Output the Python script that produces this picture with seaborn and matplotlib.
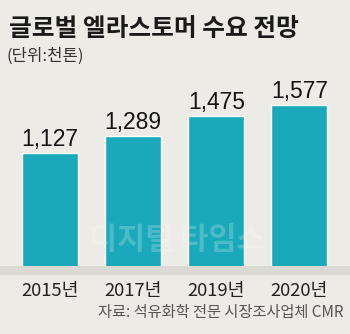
import matplotlib
matplotlib.use("Agg")
import matplotlib.pyplot as plt
import seaborn as sns
import pandas as pd
from matplotlib.patches import Rectangle

categories = ["2015년", "2017년", "2019년", "2020년"]
values = [1127, 1289, 1475, 1577]
value_labels = ["1,127", "1,289", "1,475", "1,577"]
title = "글로벌 엘라스토머 수요 전망"
subtitle = "(단위:천톤)"
source = "자료: 석유화학 전문 시장조사업체 CMR"
watermark = "디지털 타임스"

BG = "#ECEBE5"
BAR = "#19A9BA"

sns.set_theme(style="white")
plt.rcParams['font.family'] = ['Noto Sans CJK KR', 'DejaVu Sans']

W, H = 350, 334
fig = plt.figure(figsize=(W / 100, H / 100), dpi=100, facecolor=BG)

# bottom gray band
fig.patches.append(Rectangle((0, (H - 275) / H), 1, 9 / H, transform=fig.transFigure,
                             facecolor="#DAD9D4", edgecolor="none", zorder=0))

ax_left = 8.5 / W
ax_w = (341 - 8.5) / W
ax_bottom = (H - 274) / H
ax_h = 1700 * 0.10727 / H
ax = fig.add_axes([ax_left, ax_bottom, ax_w, ax_h])
ax.set_facecolor("none")

df = pd.DataFrame({"year": categories, "value": values})
sns.barplot(data=df, x="year", y="value", color=BAR, saturation=1, width=0.675, ax=ax, zorder=2)
ax.set_xlim(-0.5, 3.5)
ax.set_ylim(0, 1700)
for s in ax.spines.values():
    s.set_visible(False)
ax.set_yticks([])
ax.set_xlabel("")
ax.set_ylabel("")
ax.tick_params(axis="x", length=0, pad=6, labelsize=13.2, labelcolor="#222222")

val_font = ['Liberation Sans Narrow', 'Liberation Sans', 'DejaVu Sans']
for i, (v, lab) in enumerate(zip(values, value_labels)):
    ax.annotate(lab, (i, v), xytext=(0, 5), textcoords="offset points",
                ha="center", va="baseline", fontsize=16.5, color="#141414",
                family=val_font, zorder=4)

fig.text(9 / W, 1 - 36 / H, title, fontsize=17.8, fontweight="bold", color="#1A1A1A",
         ha="left", va="baseline")
fig.text(7 / W, 1 - 61 / H, subtitle, fontsize=12, color="#333333",
         ha="left", va="baseline")
fig.text(177 / W, 1 - 249 / H, watermark, fontsize=22, fontweight="bold",
         color="white", alpha=0.22, ha="center", va="baseline", zorder=5)
fig.text(343 / W, 1 - 317 / H, source, fontsize=11, color="#555555",
         ha="right", va="baseline")

fig.savefig("out.png", dpi=100, facecolor=BG)
